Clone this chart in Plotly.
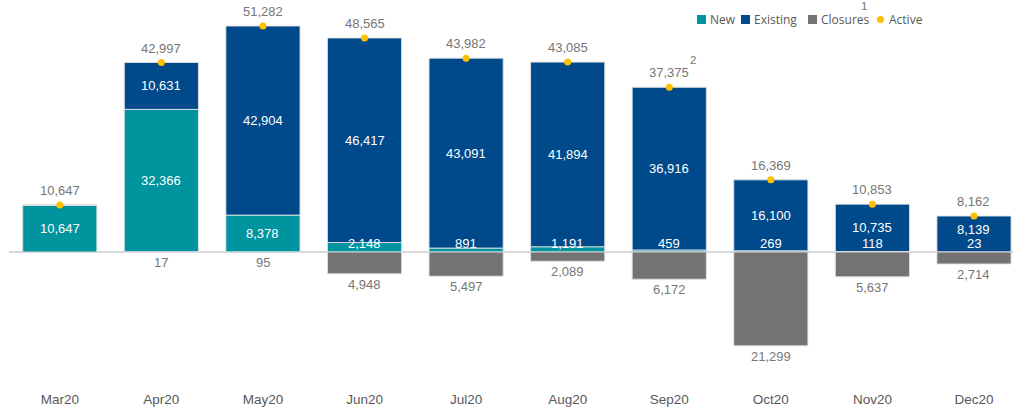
import plotly.graph_objects as go

# Monthly account movements
months = ["Mar20", "Apr20", "May20", "Jun20", "Jul20", "Aug20", "Sep20", "Oct20", "Nov20", "Dec20"]
new_vals = [10647, 32366, 8378, 2148, 891, 1191, 459, 269, 118, 23]
existing_vals = [0, 10631, 42904, 46417, 43091, 41894, 36916, 16100, 10735, 8139]
closures_vals = [0, 17, 95, 4948, 5497, 2089, 6172, 21299, 5637, 2714]
active_vals = [10647, 42997, 51282, 48565, 43982, 43085, 37375, 16369, 10853, 8162]

legend_names = ["New", "Existing", "Closures", "Active"]

C_NEW = "#00949f"
C_EXIST = "#004a8c"
C_CLOS = "#737373"
C_ACTIVE = "#ffc000"
C_TEXT = "#767676"
C_AXIS = "#595959"

LABEL_FONT = dict(family="Liberation Sans, Arial, sans-serif", size=13)

W, H = 1013, 408
ML, MR, MT, MB = 9, 0, 0, 23
PW, PH = W - ML - MR, H - MT - MB

x = list(range(len(months)))
fig = go.Figure()

edge = dict(color="rgba(225,225,225,0.9)", width=1)
fig.add_trace(go.Bar(x=x, y=new_vals, marker=dict(color=C_NEW, line=edge), name="New",
                     showlegend=False, hoverinfo="skip"))
fig.add_trace(go.Bar(x=x, y=existing_vals, marker=dict(color=C_EXIST, line=edge), name="Existing",
                     showlegend=False, hoverinfo="skip"))
fig.add_trace(go.Bar(x=x, y=[-v for v in closures_vals], marker=dict(color=C_CLOS, line=edge),
                     name="Closures", showlegend=False, hoverinfo="skip"))
fig.add_trace(go.Scatter(x=x, y=active_vals, mode="markers", name="Active",
                         marker=dict(color=C_ACTIVE, size=7), showlegend=False, hoverinfo="skip"))

ann = []
for i in x:
    n, e, c, a = new_vals[i], existing_vals[i], closures_vals[i], active_vals[i]
    # New: centred when large, sitting on the axis when small
    if n >= 5000:
        ann.append(dict(x=i, y=n / 2, text=f"{n:,}", showarrow=False,
                        font=dict(LABEL_FONT, color="white")))
    else:
        ann.append(dict(x=i, y=0, text=f"{n:,}", showarrow=False, yanchor="bottom", yshift=-1,
                        font=dict(LABEL_FONT, color="white")))
    # Existing: centred in its segment
    if e > 0:
        shift = 4 if e < 10000 else 0
        ann.append(dict(x=i, y=n + e / 2, text=f"{e:,}", showarrow=False, yshift=shift,
                        font=dict(LABEL_FONT, color="white")))
    # Closures: below the bar
    if c > 0:
        ann.append(dict(x=i, y=-c, text=f"{c:,}", showarrow=False, yanchor="top", yshift=-1,
                        font=dict(LABEL_FONT, color=C_TEXT)))
    # Active total above the dot
    ann.append(dict(x=i, y=a, text=f"{a:,}", showarrow=False, yanchor="bottom", yshift=5,
                    font=dict(LABEL_FONT, color=C_TEXT)))

# Footnote marker on Sep total
ann.append(dict(x=6, y=active_vals[6], text="2", showarrow=False, yanchor="bottom",
                xshift=24, yshift=19, font=dict(LABEL_FONT, size=11.5, color=C_TEXT)))


def px(xp):
    return (xp - ML) / PW


def py(yp):
    return (H - MB - yp) / PH


# Legend drawn as swatches + labels
leg_font = dict(family="Open Sans, sans-serif", size=12, color=C_AXIS)
leg_items = [(697, C_NEW, "sq"), (741, C_EXIST, "sq"), (808, C_CLOS, "sq"), (877, C_ACTIVE, "dot")]
shapes = []
ly = 19.5
for (x0, col, kind), name in zip(leg_items, legend_names):
    if kind == "sq":
        shapes.append(dict(type="rect", xref="paper", yref="paper",
                           x0=px(x0), x1=px(x0 + 9), y0=py(ly + 4.5), y1=py(ly - 4.5),
                           fillcolor=col, line=dict(width=0)))
        tx = x0 + 11
    else:
        shapes.append(dict(type="circle", xref="paper", yref="paper",
                           x0=px(x0), x1=px(x0 + 7), y0=py(ly + 3.5), y1=py(ly - 3.5),
                           fillcolor=col, line=dict(width=0)))
        tx = x0 + 10
    ann.append(dict(xref="paper", yref="paper", x=px(tx), y=py(ly), xanchor="left",
                    yanchor="middle", text=name, showarrow=False, font=leg_font))
# Footnote marker on Closures legend entry
ann.append(dict(xref="paper", yref="paper", x=px(864), y=py(6), xanchor="center", yanchor="middle",
                text="1", showarrow=False, font=dict(LABEL_FONT, size=11.5, color=C_TEXT)))

k = 226 / 51282  # pixels per unit
ytop = (252 - MT) / k
ybot = -(H - MB - 252) / k

fig.update_layout(
    width=W, height=H,
    margin=dict(l=ML, r=MR, t=MT, b=MB),
    barmode="relative", bargap=0.27,
    plot_bgcolor="white", paper_bgcolor="white",
    xaxis=dict(range=[-0.5, 9.384], tickmode="array", tickvals=x, ticktext=months,
               showgrid=False, zeroline=False, showline=False, ticks="",
               tickfont=dict(family="Liberation Sans, Arial, sans-serif", size=13.5, color=C_AXIS),
               ticklabelstandoff=4),
    yaxis=dict(range=[ybot, ytop], showgrid=False, showticklabels=False, showline=False,
               zeroline=True, zerolinecolor="#d9d9d9", zerolinewidth=1.5, ticks=""),
    annotations=ann, shapes=shapes,
    showlegend=False,
)

fig.write_html("out.html")
